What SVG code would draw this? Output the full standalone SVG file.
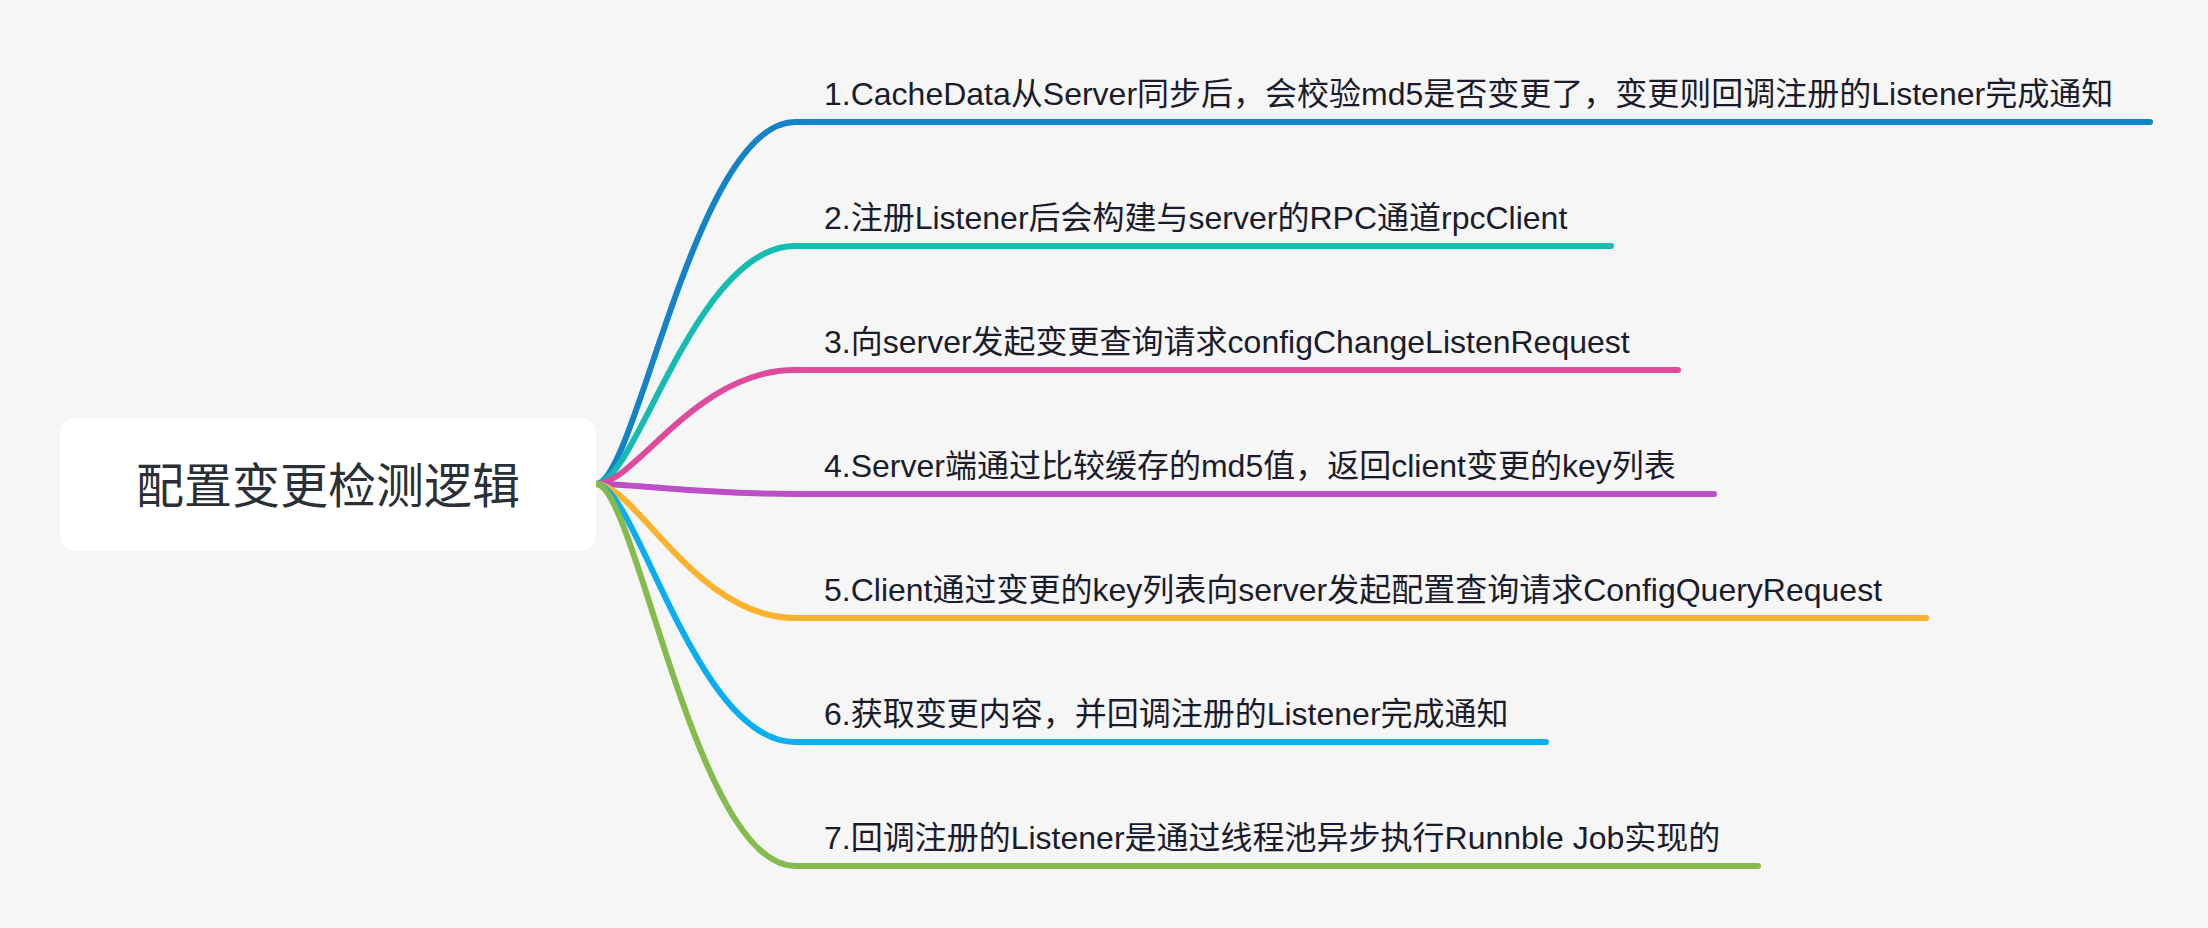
<svg xmlns="http://www.w3.org/2000/svg" width="2208" height="928" viewBox="0 0 2208 928">
<style>
.bg{fill:#f6f6f6}
.root{fill:#ffffff}
.rt{font-family:"Liberation Sans","Noto Sans CJK SC",sans-serif;font-size:48px;fill:#2b2f36;text-anchor:middle}
.lb{font-family:"Liberation Sans","Noto Sans CJK SC",sans-serif;font-size:32px;fill:#1b1c2b}
.c{fill:none;stroke-width:6;stroke-linecap:round;stroke-linejoin:round}
</style>
<rect class="bg" x="0" y="0" width="2208" height="928"/>
<g id="connectors">
<path class="c" stroke="#1283c6" d="M596 484 C636 484 695 122 795 122 H2150"/>
<path class="c" stroke="#14bcb2" d="M596 484 C636 484 695 246 795 246 H1611"/>
<path class="c" stroke="#de4a9c" d="M596 484 C636 484 695 370 795 370 H1678"/>
<path class="c" stroke="#bb4fc6" d="M596 484 C636 484 695 494 795 494 H1714"/>
<path class="c" stroke="#fcb22c" d="M596 484 C636 484 695 618 795 618 H1926"/>
<path class="c" stroke="#08aeef" d="M596 484 C636 484 695 742 795 742 H1546"/>
<path class="c" stroke="#85bb4c" d="M596 484 C636 484 695 866 795 866 H1758"/>
</g>
<g id="root">
<rect class="root" x="60" y="418" width="536" height="133" rx="16" ry="16"/>
<text class="rt" x="328" y="503">配置变更检测逻辑</text>
</g>
<g id="n1"><text class="lb" x="824" y="105">1.CacheData从Server同步后，会校验md5是否变更了，变更则回调注册的Listener完成通知</text></g>
<g id="n2"><text class="lb" x="824" y="229">2.注册Listener后会构建与server的RPC通道rpcClient</text></g>
<g id="n3"><text class="lb" x="824" y="353">3.向server发起变更查询请求configChangeListenRequest</text></g>
<g id="n4"><text class="lb" x="824" y="477">4.Server端通过比较缓存的md5值，返回client变更的key列表</text></g>
<g id="n5"><text class="lb" x="824" y="601">5.Client通过变更的key列表向server发起配置查询请求ConfigQueryRequest</text></g>
<g id="n6"><text class="lb" x="824" y="725">6.获取变更内容，并回调注册的Listener完成通知</text></g>
<g id="n7"><text class="lb" x="824" y="849">7.回调注册的Listener是通过线程池异步执行Runnble Job实现的</text></g>
</svg>
